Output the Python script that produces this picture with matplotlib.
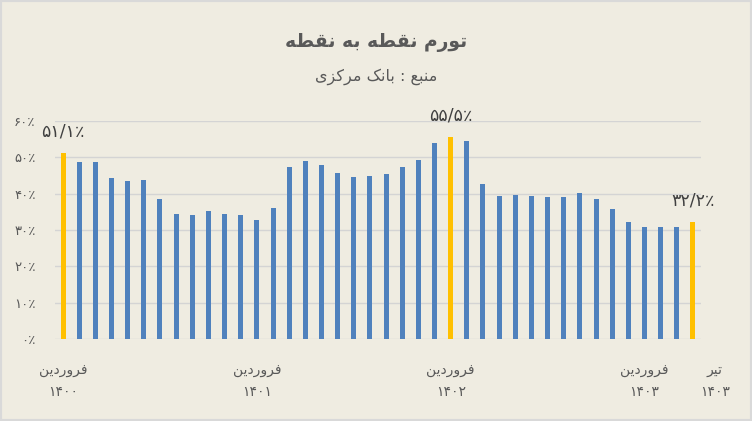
import numpy as np
import matplotlib
matplotlib.use('Agg')
import matplotlib.pyplot as plt
import matplotlib.transforms as mtransforms
from matplotlib.patches import Rectangle

# point-to-point inflation, Farvardin 1400 .. Tir 1403 (40 months)
inflation = [51.1, 48.7, 48.7, 44.3, 43.5, 43.8, 38.5, 34.4, 34.1, 35.2,
             34.4, 34.1, 32.8, 36.1, 47.3, 49.0, 47.9, 45.7, 44.6, 44.9,
             45.4, 47.3, 49.3, 53.9, 55.5, 54.5, 42.7, 39.4, 39.6, 39.4,
             39.1, 39.1, 40.2, 38.5, 35.8, 32.2, 30.8, 30.8, 30.8, 32.2]
highlight = [0, 24, 39]
tick_pos = [0, 12, 24, 36, 39]
tick_month = ['فروردین', 'فروردین', 'فروردین', 'فروردین', 'تیر']
tick_year = ['۱۴۰۰', '۱۴۰۱', '۱۴۰۲', '۱۴۰۳', '۱۴۰۳']
yticks = [0, 10, 20, 30, 40, 50, 60]

title = 'تورم نقطه به نقطه'
subtitle = 'منبع : بانک مرکزی'

# matplotlib has no arabic shaping, so do it by hand
FORMS = {
    'ا': ('\uFE8D', '\uFE8E', None, None),
    'ب': ('\uFE8F', '\uFE90', '\uFE91', '\uFE92'),
    'ت': ('\uFE95', '\uFE96', '\uFE97', '\uFE98'),
    'د': ('\uFEA9', '\uFEAA', None, None),
    'ر': ('\uFEAD', '\uFEAE', None, None),
    'ز': ('\uFEAF', '\uFEB0', None, None),
    'ط': ('\uFEC1', '\uFEC2', '\uFEC3', '\uFEC4'),
    'ع': ('\uFEC9', '\uFECA', '\uFECB', '\uFECC'),
    'ف': ('\uFED1', '\uFED2', '\uFED3', '\uFED4'),
    'ق': ('\uFED5', '\uFED6', '\uFED7', '\uFED8'),
    'م': ('\uFEE1', '\uFEE2', '\uFEE3', '\uFEE4'),
    'ن': ('\uFEE5', '\uFEE6', '\uFEE7', '\uFEE8'),
    'ه': ('\uFEE9', '\uFEEA', '\uFEEB', '\uFEEC'),
    'و': ('\uFEED', '\uFEEE', None, None),
    'ک': ('\uFB8E', '\uFB8F', '\uFB90', '\uFB91'),
    'ی': ('\uFBFC', '\uFBFD', '\uFBFE', '\uFBFF'),
}

def shape(text):
    out = []
    for i, c in enumerate(text):
        if c not in FORMS:
            out.append(c)
            continue
        iso, fin, ini, med = FORMS[c]
        prev = text[i-1] if i > 0 else None
        nxt = text[i+1] if i + 1 < len(text) else None
        jp = prev in FORMS and FORMS[prev][2] is not None
        jn = nxt in FORMS and ini is not None
        if jp and jn:
            out.append(med)
        elif jp:
            out.append(fin)
        elif jn:
            out.append(ini)
        else:
            out.append(iso)
    return ''.join(reversed(out))

def fa_num(s):
    return s.translate(str.maketrans('0123456789.', '۰۱۲۳۴۵۶۷۸۹/'))

bg = '#EFECE1'
blue = '#4F81BD'
gold = '#FFC000'
grey = '#595959'

plt.rcParams['font.family'] = ['DejaVu Sans']

fig = plt.figure(figsize=(7.52, 4.21), dpi=100, facecolor=bg)
ax = fig.add_axes([55/752, 1 - 339/421, 646/752, 218/421])
ax.set_facecolor(bg)

x = np.arange(len(inflation))
colors = [gold if i in highlight else blue for i in x]
ax.bar(x, inflation, width=0.31, color=colors, zorder=3)

for i in highlight:
    ax.annotate(fa_num('%.1f' % inflation[i]) + '٪', (x[i], inflation[i]),
                xytext=(0, 9), textcoords='offset points', ha='center',
                va='bottom', fontsize=12.5, color='#404040')

ax.set_xlim(-0.5, 39.5)
ax.set_ylim(0, 60)
ax.set_yticks(yticks)
ax.set_yticklabels([fa_num(str(v)) + '٪' for v in yticks], fontsize=9.5, color=grey)
ax.yaxis.grid(True, color='#D4D4D4', linewidth=1, zorder=0)
ax.tick_params(axis='y', length=0, pad=14)
ax.set_xticks(tick_pos)
ax.set_xticklabels([shape(m) + '\n' + y for m, y in zip(tick_month, tick_year)],
                   fontsize=10, color=grey, linespacing=1.75)
ax.tick_params(axis='x', length=0, pad=17)
labs = ax.get_xticklabels()
labs[-1].set_transform(labs[-1].get_transform() +
                       mtransforms.ScaledTranslation(22/100, 0, fig.dpi_scale_trans))
for s in ax.spines.values():
    s.set_visible(False)

fig.text(0.5, 1 - 42/421, shape(title), ha='center', va='center',
         fontsize=13.5, fontweight='bold', color=grey)
fig.text(0.5, 1 - 77/421, shape(subtitle), ha='center', va='center',
         fontsize=11.5, color=grey)

fig.patches.append(Rectangle((0, 0), 1, 1, transform=fig.transFigure,
                             fill=False, edgecolor='#D9D9D9', linewidth=3))

fig.savefig('out.png', dpi=100, facecolor=bg)
